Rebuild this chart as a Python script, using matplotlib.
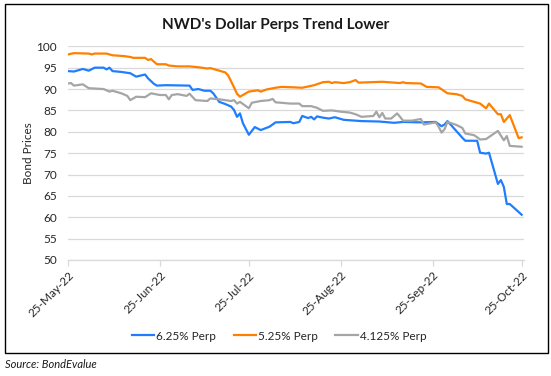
import matplotlib
matplotlib.use("Agg")
import matplotlib.pyplot as plt
import matplotlib.dates as mdates
from matplotlib.patches import Rectangle
import pandas as pd

plt.rcParams['font.family'] = ['Lato', 'DejaVu Sans']

title = "NWD's Dollar Perps Trend Lower"
y_label = "Bond Prices"
source = "Source: BondEvalue"
labels = ["6.25% Perp", "5.25% Perp", "4.125% Perp"]
colors = ["#1F7EFF", "#FF8000", "#A5A5A5"]

blue_dates = ["2022-05-25", "2022-05-27", "2022-05-30", "2022-06-01", "2022-06-03", "2022-06-06",
              "2022-06-07", "2022-06-08", "2022-06-09", "2022-06-12", "2022-06-15", "2022-06-17",
              "2022-06-20", "2022-06-21", "2022-06-23", "2022-06-24", "2022-06-27", "2022-07-05",
              "2022-07-06", "2022-07-08", "2022-07-10", "2022-07-12", "2022-07-13", "2022-07-15",
              "2022-07-17", "2022-07-19", "2022-07-20", "2022-07-21", "2022-07-22", "2022-07-23",
              "2022-07-25", "2022-07-27", "2022-07-29", "2022-08-01", "2022-08-03", "2022-08-08",
              "2022-08-09", "2022-08-11", "2022-08-12", "2022-08-14", "2022-08-15", "2022-08-16",
              "2022-08-17", "2022-08-19", "2022-08-21", "2022-08-23", "2022-08-26", "2022-09-01",
              "2022-09-07", "2022-09-12", "2022-09-15", "2022-09-21", "2022-09-26", "2022-09-28",
              "2022-09-29", "2022-09-30", "2022-10-05", "2022-10-06", "2022-10-10", "2022-10-11",
              "2022-10-13", "2022-10-14", "2022-10-17", "2022-10-18", "2022-10-19", "2022-10-20",
              "2022-10-21", "2022-10-25"]
blue_vals = [94.2, 94.1, 94.7, 94.3, 95.0, 95.0,
             94.6, 95.0, 94.2, 94.0, 93.7, 92.9,
             93.4, 92.5, 91.2, 90.8, 90.9, 90.8,
             89.8, 90.0, 89.6, 89.6, 89.0, 87.0,
             86.5, 85.9, 85.1, 83.5, 84.3, 82.0,
             79.3, 81.1, 80.4, 81.2, 82.2, 82.3,
             82.0, 82.3, 83.7, 83.2, 83.5, 82.9,
             83.6, 83.3, 83.1, 83.4, 82.8, 82.5,
             82.4, 82.1, 82.3, 82.2, 82.3, 81.3,
             81.7, 82.5, 78.6, 77.9, 77.9, 75.1,
             74.9, 75.1, 67.8, 68.7, 67.1, 63.1,
             63.1, 60.6]

orange_dates = ["2022-05-25", "2022-05-27", "2022-06-01", "2022-06-02", "2022-06-03", "2022-06-07",
                "2022-06-09", "2022-06-13", "2022-06-15", "2022-06-16", "2022-06-20", "2022-06-21",
                "2022-06-22", "2022-06-24", "2022-06-27", "2022-06-28", "2022-07-01", "2022-07-05",
                "2022-07-08", "2022-07-11", "2022-07-12", "2022-07-17", "2022-07-18", "2022-07-20",
                "2022-07-21", "2022-07-22", "2022-07-24", "2022-07-25", "2022-07-28", "2022-07-29",
                "2022-07-31", "2022-08-03", "2022-08-05", "2022-08-09", "2022-08-12", "2022-08-16",
                "2022-08-19", "2022-08-21", "2022-08-22", "2022-08-23", "2022-08-26", "2022-08-28",
                "2022-08-30", "2022-08-31", "2022-09-08", "2022-09-14", "2022-09-15", "2022-09-16",
                "2022-09-21", "2022-09-23", "2022-09-27", "2022-09-30", "2022-10-03", "2022-10-05",
                "2022-10-06", "2022-10-11", "2022-10-13", "2022-10-14", "2022-10-17", "2022-10-18",
                "2022-10-19", "2022-10-21", "2022-10-24", "2022-10-25"]
orange_vals = [98.1, 98.4, 98.3, 98.1, 98.3, 98.3,
               97.9, 97.7, 97.5, 97.3, 97.3, 96.8,
               97.0, 95.8, 95.8, 95.5, 95.3, 95.3,
               95.1, 94.8, 94.9, 93.9, 93.2, 90.4,
               88.9, 88.2, 89.0, 89.4, 89.7, 89.4,
               89.9, 90.3, 90.5, 90.4, 90.3, 90.9,
               91.6, 91.7, 91.4, 91.6, 91.4, 91.6,
               92.1, 91.5, 91.7, 91.4, 91.6, 91.4,
               91.3, 90.5, 90.4, 89.0, 88.8, 88.4,
               87.6, 86.6, 85.5, 86.6, 84.1, 84.1,
               82.3, 83.9, 78.5, 78.7]

gray_dates = ["2022-05-25", "2022-05-26", "2022-05-27", "2022-05-30", "2022-06-01", "2022-06-06",
              "2022-06-08", "2022-06-09", "2022-06-12", "2022-06-14", "2022-06-15", "2022-06-17",
              "2022-06-20", "2022-06-22", "2022-06-25", "2022-06-27", "2022-06-28", "2022-06-29",
              "2022-07-01", "2022-07-04", "2022-07-05", "2022-07-07", "2022-07-11", "2022-07-12",
              "2022-07-15", "2022-07-19", "2022-07-20", "2022-07-21", "2022-07-22", "2022-07-25",
              "2022-07-26", "2022-07-29", "2022-08-01", "2022-08-02", "2022-08-03", "2022-08-08",
              "2022-08-11", "2022-08-12", "2022-08-15", "2022-08-17", "2022-08-19", "2022-08-22",
              "2022-08-25", "2022-08-28", "2022-08-30", "2022-09-01", "2022-09-05", "2022-09-06",
              "2022-09-07", "2022-09-08", "2022-09-09", "2022-09-11", "2022-09-13", "2022-09-14",
              "2022-09-15", "2022-09-18", "2022-09-21", "2022-09-22", "2022-09-26", "2022-09-27",
              "2022-09-28", "2022-09-29", "2022-09-30", "2022-10-03", "2022-10-05", "2022-10-06",
              "2022-10-09", "2022-10-11", "2022-10-13", "2022-10-17", "2022-10-19", "2022-10-20",
              "2022-10-21", "2022-10-25"]
gray_vals = [91.3, 91.4, 90.8, 91.1, 90.2, 90.0,
             89.4, 89.6, 89.0, 88.4, 87.4, 88.2,
             88.1, 89.0, 88.6, 88.6, 87.6, 88.6,
             88.8, 88.4, 88.9, 87.4, 87.2, 87.8,
             87.6, 87.2, 87.4, 86.6, 87.0, 85.5,
             86.8, 87.2, 87.4, 87.7, 86.9, 86.6,
             86.6, 86.0, 86.0, 85.6, 84.9, 85.0,
             84.7, 84.5, 84.1, 83.5, 83.7, 84.7,
             83.4, 84.4, 83.1, 83.1, 84.3, 83.5,
             82.6, 82.6, 83.0, 81.7, 82.2, 81.2,
             79.8, 80.6, 82.3, 81.6, 80.9, 79.6,
             79.2, 78.2, 78.3, 80.2, 78.0, 79.0,
             76.7, 76.5]

tick_dates = ["2022-05-25", "2022-06-25", "2022-07-25", "2022-08-25", "2022-09-25", "2022-10-25"]
y_ticks = [50, 55, 60, 65, 70, 75, 80, 85, 90, 95, 100]

W, H = 551, 376
fig = plt.figure(figsize=(W / 100, H / 100), dpi=100)
ax = fig.add_axes([68 / W, 1 - 260 / H, (524 - 68) / W, (260 - 46.3) / H])

series = [(blue_dates, blue_vals), (orange_dates, orange_vals), (gray_dates, gray_vals)]
for (d, v), lab, c in zip(series, labels, colors):
    ax.plot(pd.to_datetime(d), v, color=c, lw=1.6, label=lab, solid_joinstyle='round')

ax.set_ylim(50, 100)
ax.set_yticks(y_ticks)
ax.set_xlim(pd.Timestamp("2022-05-25"), pd.Timestamp("2022-10-25") + pd.Timedelta(days=0.8))
ax.set_xticks(pd.to_datetime(tick_dates))
ax.xaxis.set_major_formatter(mdates.DateFormatter('%d-%b-%y'))

ax.grid(axis='y', color='#D9D9D9', lw=0.9)
ax.set_axisbelow(True)
for s in ['left', 'right', 'top']:
    ax.spines[s].set_visible(False)
ax.spines['bottom'].set_color('#D9D9D9')
ax.spines['bottom'].set_linewidth(0.9)
ax.tick_params(axis='y', length=0, pad=8, labelsize=8.5, labelcolor='#262626')
ax.tick_params(axis='x', length=4, color='#D9D9D9', width=0.9, pad=3, labelsize=8.5, labelcolor='#262626')
for lbl in ax.get_xticklabels():
    lbl.set_rotation(45)
    lbl.set_ha('right')
    lbl.set_va('top')
    lbl.set_rotation_mode('anchor')

ax.set_ylabel(y_label, fontsize=8.5, color='#262626')
ax.yaxis.set_label_coords(28 / W, 1 - 153 / H, transform=fig.transFigure)
ax.yaxis.label.set_va('center')
ax.yaxis.label.set_ha('center')

fig.text(276 / W, 1 - 25 / H, title, ha='center', va='center', fontsize=11, fontweight='bold', color='#1a1a1a')

leg = fig.legend(loc='center', bbox_to_anchor=(279 / W, 1 - 336 / H), ncol=3, frameon=False,
                 fontsize=8.5, handlelength=1.9, handletextpad=0.15, columnspacing=1.5)
for t in leg.get_texts():
    t.set_color('#262626')

fig.patches.append(Rectangle((5 / W, 1 - 353 / H), (548 - 5) / W, (353 - 4) / H,
                             transform=fig.transFigure, fill=False, edgecolor='black', lw=1.0))

fig.text(5 / W, 1 - 365 / H, source, ha='left', va='center', fontsize=8, style='italic', color='#1a1a1a')

fig.savefig("out.png", dpi=100)
